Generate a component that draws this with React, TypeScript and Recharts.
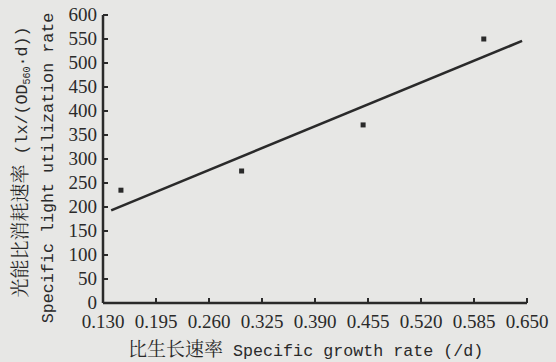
import React from "react";
import { ComposedChart, Scatter, Line, XAxis, YAxis } from "recharts";

const growthRate = [0.152, 0.3, 0.449, 0.597];
const lightRate = [235, 275, 371, 550];
const fitX = [0.14, 0.644];
const fitY = [193, 546];
const xTicks = [0.13, 0.195, 0.26, 0.325, 0.39, 0.455, 0.52, 0.585, 0.65];
const yTicks = [0, 50, 100, 150, 200, 250, 300, 350, 400, 450, 500, 550, 600];

const points = growthRate.map((x, i) => ({ x, y: lightRate[i] }));
const fitLine = fitX.map((x, i) => ({ x, y: fitY[i] }));

const INK = "#2a2a2a";
const SERIF = "Liberation Serif, serif";
const MONO = "Liberation Mono, monospace";
const CJK = "Noto Serif CJK SC, Noto Sans CJK SC, serif";

const tickText = { fontFamily: SERIF, fontSize: 19 };

const YTick = (props: any) => {
  const { x, y, payload } = props;
  return (
    <g>
      <line x1={x} x2={x + 5} y1={y} y2={y} stroke={INK} strokeWidth={2} />
      <text x={x - 6} y={y} dy={6} textAnchor="end" fill={INK} style={tickText}>
        {payload.value}
      </text>
    </g>
  );
};

const XTick = (props: any) => {
  const { x, y, payload } = props;
  return (
    <g>
      {payload.value > 0.13 && <line x1={x} x2={x} y1={y} y2={y - 5} stroke={INK} strokeWidth={2} />}
      <text x={x} y={y + 25} textAnchor="middle" fill={INK} style={tickText}>
        {payload.value.toFixed(3)}
      </text>
    </g>
  );
};

const Square = (p: any) => <rect x={p.cx - 2.5} y={p.cy - 2.5} width={5} height={5} fill={INK} />;

export default function App() {
  return (
    <div style={{ position: "absolute", left: 0, top: 0, width: 556, height: 362, background: "#e7e7e5" }}>
      <ComposedChart width={556} height={362} margin={{ top: 15, right: 29, bottom: 29, left: 53 }}>
        <XAxis
          type="number"
          dataKey="x"
          domain={[0.13, 0.65]}
          ticks={xTicks}
          allowDataOverflow
          height={30}
          tickSize={0}
          tickMargin={0}
          tick={<XTick />}
          axisLine={{ stroke: INK, strokeWidth: 2.5 }}
          tickLine={false}
        />
        <YAxis
          type="number"
          dataKey="y"
          domain={[0, 600]}
          ticks={yTicks}
          width={50}
          tickSize={0}
          tickMargin={0}
          tick={<YTick />}
          axisLine={{ stroke: INK, strokeWidth: 2.5 }}
          tickLine={false}
        />
        <Line
          data={fitLine}
          dataKey="y"
          type="linear"
          stroke={INK}
          strokeWidth={2.6}
          dot={false}
          isAnimationActive={false}
        />
        <Scatter data={points} dataKey="y" shape={<Square />} isAnimationActive={false} />
      </ComposedChart>
      <svg
        width={556}
        height={362}
        style={{ position: "absolute", left: 0, top: 0, pointerEvents: "none" }}
      >
        <text x={128} y={356} fill={INK}>
          <tspan style={{ fontFamily: CJK, fontSize: 19 }}>比生长速率</tspan>
          <tspan style={{ fontFamily: MONO, fontSize: 16.7 }}> Specific growth rate (/d)</tspan>
        </text>
        <text transform="translate(27,162) rotate(-90)" textAnchor="middle" fill={INK}>
          <tspan style={{ fontFamily: CJK, fontSize: 19 }}>光能比消耗速率</tspan>
          <tspan style={{ fontFamily: MONO, fontSize: 16.7 }}> (lx/(OD</tspan>
          <tspan style={{ fontFamily: MONO, fontSize: 10 }} dy={3}>560</tspan>
          <tspan style={{ fontFamily: MONO, fontSize: 16.7 }} dy={-3}>·d))</tspan>
        </text>
        <text
          transform="translate(53,168) rotate(-90)"
          textAnchor="middle"
          fill={INK}
          style={{ fontFamily: MONO, fontSize: 16.7 }}
        >
          Specific light utilization rate
        </text>
      </svg>
    </div>
  );
}
